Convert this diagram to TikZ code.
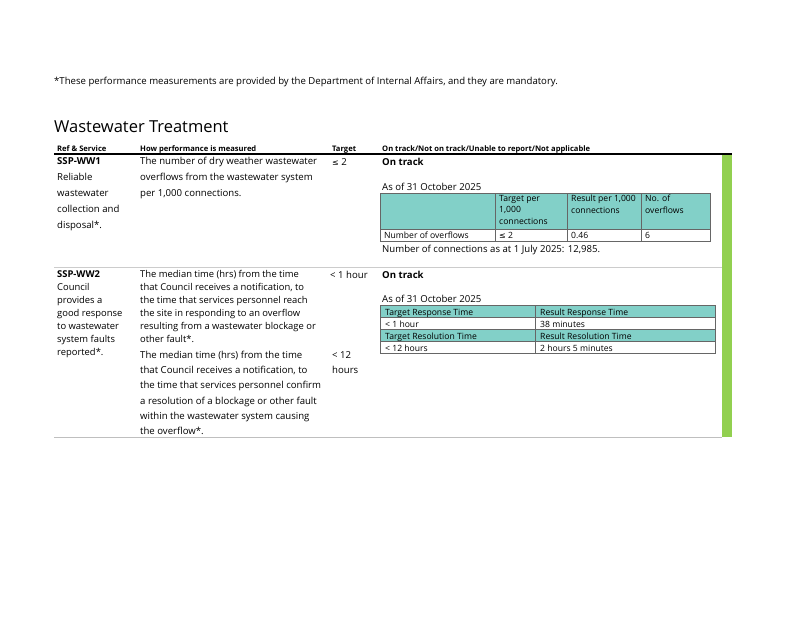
\documentclass[tikz,border=0pt]{standalone}
\usepackage{fontspec}
\setmainfont{Open Sans}
\newfontfamily\djv{DejaVu Sans}
\newcommand{\myle}{{\djv\fontsize{8}{8}\selectfont ≤}}
\begin{document}
\begin{tikzpicture}[x=1pt,y=-1pt,
 t/.style={anchor=base west,inner sep=0pt,font=\fontsize{9.6}{16}\selectfont},
 tb/.style={t,font=\fontsize{9.6}{16}\selectfont\bfseries},
 hd/.style={t,font=\fontsize{7.6}{10}\selectfont\bfseries},
 s/.style={t,font=\fontsize{8.6}{11}\selectfont},
 ml/.style={anchor=north west,inner sep=0pt,align=left,font=\fontsize{9.6}{16}\selectfont},
 mlb/.style={ml,font=\fontsize{9.4}{13}\selectfont},
 mlc/.style={ml,font=\fontsize{9.6}{15.2}\selectfont},
 sml/.style={anchor=north west,inner sep=0pt,align=left,font=\fontsize{8.6}{11.5}\selectfont},
 cell/.style={draw=gray!80!black,line width=0.6pt}]
\useasboundingbox (0,0) rectangle (800,619);
\definecolor{teal}{HTML}{82D0C8}
\definecolor{grn}{HTML}{92D050}
\node[t] (foot) at (54,84) {*These performance measurements are provided by the Department of Internal Affairs, and they are mandatory.};
\node[t,font=\fontsize{16.5}{20}\selectfont] (title) at (54,132) {Wastewater Treatment};
\node[hd] (h1) at (57,151) {Ref \& Service};
\node[hd] (h2) at (140,151) {How performance is measured};
\node[hd] (h3) at (332,151) {Target};
\node[hd] (h4) at (382,151) {On track/Not on track/Unable to report/Not applicable};
\fill[grn] (722,154) rectangle (732,437);
\draw[line width=1.2pt] (54,154) -- (732,154);
\draw[gray!40,line width=1pt] (54,267) -- (722,267);
\draw[gray!50,line width=1pt] (54,437) -- (722,437);
% row 1
\node[ml] (r1) at (57,157) {\textbf{SSP-WW1}\\Reliable\\wastewater\\collection and\\disposal*.};
\node[ml] (m1) at (140,157) {The number of dry weather wastewater\\overflows from the wastewater system\\per 1,000 connections.};
\node[t] (tg1) at (332,165) {\myle{} 2};
\node[tb] (ot1) at (382,165) {On track};
\node[t] (as1) at (382,190) {As of 31 October 2025};
\fill[teal] (380,193) rectangle (710,229);
\draw[cell] (380,193) rectangle (710,241);
\draw[cell] (380,229) -- (710,229);
\foreach \x in {495,567,641} \draw[cell] (\x,193) -- (\x,241);
\node[sml] (c1) at (499,195) {Target per\\1,000\\connections};
\node[sml] (c2) at (571,195) {Result per 1,000\\connections};
\node[sml] (c3) at (645,195) {No. of\\overflows};
\node[s] (c4) at (384,238) {Number of overflows};
\node[s] (c5) at (499,238) {\myle{} 2};
\node[s] (c6) at (571,238) {0.46};
\node[s] (c7) at (645,238) {6};
\node[t] (nc) at (382,252) {Number of connections as at 1 July 2025: 12,985.};
% row 2
\node[mlb] (r2) at (57,270) {\textbf{SSP-WW2}\\Council\\provides a\\good response\\to wastewater\\system faults\\reported*.};
\node[mlb] (m2) at (140,270) {The median time (hrs) from the time\\that Council receives a notification, to\\the time that services personnel reach\\the site in responding to an overflow\\resulting from a wastewater blockage or\\other fault*.};
\node[t] (tg2) at (330,278) {< 1 hour};
\node[tb] (ot2) at (382,278) {On track};
\node[t] (as2) at (382,302) {As of 31 October 2025};
\fill[teal] (380,305) rectangle (715,317);
\fill[teal] (380,329) rectangle (715,341);
\draw[cell] (380,305) rectangle (715,353);
\foreach \y in {317,329,341} \draw[cell] (380,\y) -- (715,\y);
\draw[cell] (535,305) -- (535,353);
\node[s] (d1) at (385,315) {Target Response Time};
\node[s] (d2) at (540,315) {Result Response Time};
\node[s] (d3) at (385,327) {< 1 hour};
\node[s] (d4) at (540,327) {38 minutes};
\node[s] (d5) at (385,339) {Target Resolution Time};
\node[s] (d6) at (540,339) {Result Resolution Time};
\node[s] (d7) at (385,351) {< 12 hours};
\node[s] (d8) at (540,351) {2 hours 5 minutes};
\node[mlc] (m3) at (140,351) {The median time (hrs) from the time\\that Council receives a notification, to\\the time that services personnel confirm\\a resolution of a blockage or other fault\\within the wastewater system causing\\the overflow*.};
\node[mlc] (tg3) at (332,351) {< 12\\hours};
\end{tikzpicture}
\end{document}
